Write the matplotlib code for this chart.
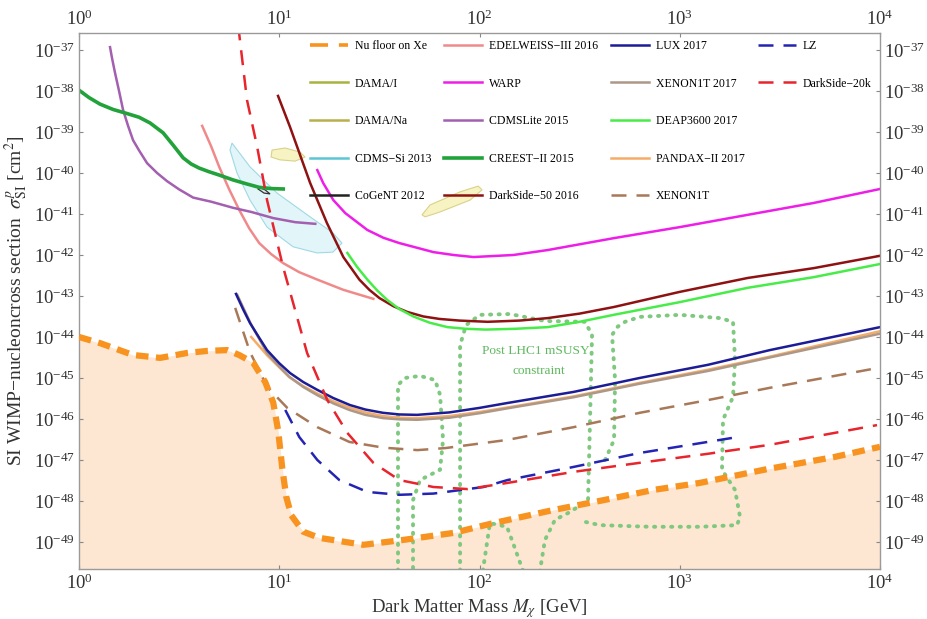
import numpy as np
import matplotlib.pyplot as plt
from matplotlib.lines import Line2D
from matplotlib.ticker import NullLocator

plt.rcParams['font.family'] = ['Liberation Serif', 'DejaVu Serif']
plt.rcParams['mathtext.fontset'] = 'stix'

# values: log10(mass / GeV) and log10(sigma / cm^2)
nu_floor_logm = [0, 0.105, 0.27, 0.405, 0.54, 0.64, 0.74, 0.80, 0.87, 0.93, 0.97, 0.995, 1.015,
                 1.035, 1.06, 1.12, 1.2, 1.42, 1.62, 1.87, 2.07, 2.37, 2.62, 2.87, 3.1, 3.44, 3.77, 4.0]
nu_floor_logsig = [-44.0, -44.15, -44.44, -44.51, -44.39, -44.34, -44.32, -44.44, -44.63, -45.1, -45.6,
                   -46.3, -47.2, -47.9, -48.35, -48.75, -48.9, -49.07, -48.95, -48.78, -48.54, -48.22,
                   -47.98, -47.73, -47.56, -47.22, -46.93, -46.68]

edelweiss_logm = [0.615, 0.66, 0.70, 0.75, 0.80, 0.85, 0.90, 0.96, 1.02, 1.10, 1.19, 1.32, 1.47]
edelweiss_logsig = [-38.85, -39.35, -39.85, -40.4, -40.9, -41.35, -41.71, -41.98, -42.2, -42.42, -42.6,
                    -42.85, -43.07]

cdmslite_logm = [0.155, 0.165, 0.18, 0.20, 0.22, 0.245, 0.27, 0.30, 0.34, 0.39, 0.44, 0.50, 0.57, 0.66,
                 0.77, 0.86, 0.97, 1.08, 1.18]
cdmslite_logsig = [-36.93, -37.2, -37.56, -38.0, -38.46, -38.85, -39.2, -39.45, -39.76, -40.0, -40.2,
                   -40.4, -40.6, -40.7, -40.85, -40.95, -41.1, -41.2, -41.24]

creest_logm = [0, 0.05, 0.105, 0.17, 0.24, 0.30, 0.355, 0.42, 0.47, 0.52, 0.56, 0.60, 0.65, 0.70, 0.77,
               0.84, 0.90, 0.96, 1.02]
creest_logsig = [-37.98, -38.16, -38.32, -38.45, -38.55, -38.64, -38.78, -39.02, -39.32, -39.63, -39.78,
                 -39.88, -39.97, -40.05, -40.17, -40.27, -40.35, -40.38, -40.39]

warp_logm = [1.19, 1.22, 1.27, 1.33, 1.44, 1.52, 1.60, 1.77, 1.87, 1.97, 2.17, 2.34, 2.67, 3.0, 3.34, 3.67, 4.0]
warp_logsig = [-39.93, -40.25, -40.66, -40.98, -41.39, -41.58, -41.71, -41.93, -42.0, -42.05, -42.0, -41.88,
               -41.59, -41.32, -41.02, -40.73, -40.39]

ds50_logm = [0.994, 1.054, 1.154, 1.238, 1.32, 1.40, 1.45, 1.50, 1.57, 1.64, 1.72, 1.80, 1.90, 2.04, 2.20,
             2.34, 2.50, 2.67, 3.0, 3.34, 3.67, 4.0]
ds50_logsig = [-38.12, -38.88, -40.24, -41.22, -42.05, -42.6, -42.85, -43.05, -43.25, -43.39, -43.5, -43.56,
               -43.6, -43.63, -43.6, -43.54, -43.43, -43.27, -42.9, -42.56, -42.32, -42.02]

deap_logm = [1.34, 1.39, 1.44, 1.49, 1.54, 1.60, 1.67, 1.75, 1.84, 1.93, 2.03, 2.18, 2.34, 2.50, 2.67, 3.0,
             3.34, 3.67, 4.0]
deap_logsig = [-41.95, -42.3, -42.6, -42.87, -43.1, -43.32, -43.5, -43.65, -43.76, -43.8, -43.82, -43.8,
               -43.76, -43.63, -43.46, -43.15, -42.8, -42.54, -42.22]

lux_logm = [0.784, 0.82, 0.854, 0.90, 0.939, 1.0, 1.054, 1.12, 1.19, 1.27, 1.353, 1.43, 1.518, 1.60, 1.688,
            1.85, 2.0, 2.14, 2.47, 2.80, 3.14, 3.45, 4.0]
lux_logsig = [-42.95, -43.33, -43.66, -44.02, -44.32, -44.64, -44.88, -45.1, -45.29, -45.49, -45.66, -45.77,
              -45.85, -45.89, -45.9, -45.84, -45.73, -45.61, -45.34, -45.0, -44.68, -44.32, -43.76]

xe2017_logm = [0.79, 0.86, 0.94, 1.0, 1.05, 1.12, 1.19, 1.27, 1.35, 1.43, 1.52, 1.60, 1.69, 1.85, 2.0,
               2.14, 2.47, 2.80, 3.14, 3.45, 4.0]
xe2017_logsig = [-42.97, -43.7, -44.4, -44.72, -44.97, -45.22, -45.42, -45.62, -45.78, -45.9, -45.98,
                 -46.01, -46.02, -45.97, -45.86, -45.74, -45.47, -45.14, -44.83, -44.5, -43.92]

pandax_logm = [0.86, 0.94, 1.0, 1.05, 1.12, 1.19, 1.27, 1.35, 1.43, 1.52, 1.60, 1.69, 1.85, 2.0, 2.14,
               2.47, 2.80, 3.14, 3.45, 4.0]
pandax_logsig = [-44.0, -44.45, -44.74, -44.98, -45.2, -45.38, -45.57, -45.72, -45.84, -45.93, -45.97,
                 -45.98, -45.93, -45.83, -45.72, -45.45, -45.12, -44.8, -44.48, -43.86]

xe1t_logm = [0.78, 0.854, 0.94, 1.04, 1.19, 1.35, 1.52, 1.69, 1.83, 2.14, 2.47, 2.80, 3.14, 3.45, 3.985]
xe1t_logsig = [-43.29, -44.37, -45.22, -45.73, -46.2, -46.56, -46.7, -46.76, -46.71, -46.51, -46.2,
               -45.85, -45.54, -45.24, -44.76]

lz_logm = [1.03, 1.10, 1.19, 1.30, 1.44, 1.60, 1.77, 2.02, 2.14, 2.47, 2.80, 3.14, 3.29]
lz_logsig = [-45.78, -46.44, -47.0, -47.49, -47.78, -47.85, -47.82, -47.66, -47.49, -47.17, -46.83, -46.56, -46.44]

ds20k_logm = [0.795, 0.839, 0.89, 0.939, 1.019, 1.139, 1.24, 1.34, 1.47, 1.60, 1.77, 1.94, 2.14, 2.47,
              2.80, 3.14, 3.45, 3.985]
ds20k_logsig = [-36.4, -38.22, -39.37, -40.66, -42.29, -44.39, -45.54, -46.34, -47.07, -47.49, -47.66,
                -47.71, -47.56, -47.29, -47.07, -46.85, -46.63, -46.15]

# closed signal regions
cdmssi_logm = [0.764, 0.854, 0.989, 1.154, 1.268, 1.313, 1.268, 1.189, 1.069, 0.939, 0.854, 0.789, 0.754]
cdmssi_logsig = [-39.27, -39.85, -40.49, -41.07, -41.46, -41.71, -41.93, -41.95, -41.80, -41.32, -40.66, -40.0, -39.44]
damai_logm = [0.964, 1.029, 1.104, 1.129, 1.079, 1.004, 0.959]
damai_logsig = [-39.44, -39.39, -39.49, -39.61, -39.71, -39.68, -39.61]
damana_logm = [1.713, 1.753, 1.903, 1.993, 2.013, 1.953, 1.803, 1.728]
damana_logsig = [-41.02, -40.78, -40.46, -40.32, -40.41, -40.66, -40.95, -41.07]
cogent_logm = [0.894, 0.929, 0.954, 0.924, 0.894]
cogent_logsig = [-40.34, -40.41, -40.51, -40.49, -40.39]

# post-LHC mSUSY contours (dotted)
msusy_logm = [
    [1.903, 1.903, 1.933, 2.002, 2.152, 2.327, 2.527, 2.562, 2.552, 2.542, 2.452, 2.377, 2.327, 2.302],
    [2.627, 2.672, 2.677, 2.662, 2.69, 2.727, 2.801, 3.001, 3.201, 3.266, 3.276, 3.266, 3.216, 3.211,
     3.276, 3.301, 3.286, 3.101, 2.851, 2.602, 2.527],
    [1.593, 1.593, 1.628, 1.703, 1.778, 1.803, 1.818, 1.803, 1.703, 1.668, 1.668],
    [2.017, 2.052, 2.137, 2.167, 2.217],
]
msusy_logsig = [
    [-49.7, -44.2, -43.71, -43.46, -43.44, -43.61, -43.63, -43.95, -46.02, -47.98, -48.27, -48.46, -48.95, -49.7],
    [-47.0, -46.51, -45.05, -43.95, -43.75, -43.63, -43.51, -43.46, -43.54, -43.63, -44.56, -45.46, -46.02,
     -47.24, -47.73, -48.39, -48.59, -48.63, -48.63, -48.59, -48.51],
    [-49.7, -45.17, -45.0, -44.95, -45.05, -45.41, -46.51, -47.24, -47.49, -47.98, -49.7],
    [-49.7, -48.54, -48.63, -49.02, -49.7],
]


def curve(lm, ls, **kw):
    return ax.plot(10.0 ** np.array(lm), 10.0 ** np.array(ls), **kw)[0]


def region(lm, ls, face, edge, lw=0.8):
    ax.fill(10.0 ** np.array(lm), 10.0 ** np.array(ls), facecolor=face, edgecolor=edge, lw=lw, zorder=1)


fig = plt.figure(figsize=(9.27, 6.19), dpi=100)
ax = fig.add_axes([79 / 927, 1 - 569 / 619, 801 / 927, 536 / 619])
ax.set_xscale('log')
ax.set_yscale('log')
ax.set_xlim(1, 1e4)
ax.set_ylim(10 ** -49.66, 10 ** -36.585)

# neutrino floor
nx = 10.0 ** np.array(nu_floor_logm)
ny = 10.0 ** np.array(nu_floor_logsig)
ax.fill_between(nx, ny, 1e-52, color='#fde6d2', lw=0, zorder=0)
ax.plot(nx, ny, color='#f7931e', lw=4.5, dashes=(2.0, 1.2), zorder=3)

region(cdmssi_logm, cdmssi_logsig, '#e2f5f9', '#9fd9e4')
region(damai_logm, damai_logsig, '#f8f3c2', '#d9d28a')
region(damana_logm, damana_logsig, '#f8f3c2', '#d9d28a')
region(cogent_logm, cogent_logsig, '#dfe3f0', '#333333', lw=0.9)

for lm, ls in zip(msusy_logm, msusy_logsig):
    curve(lm, ls, color='#7fc87f', lw=2.8, linestyle=(0, (0.3, 1.9)), dash_capstyle='round', zorder=2)

edel = curve(edelweiss_logm, edelweiss_logsig, color='#f08a8a', lw=1.8)
cdmslite = curve(cdmslite_logm, cdmslite_logsig, color='#a35fb0', lw=1.8)
creest = curve(creest_logm, creest_logsig, color='#22a23a', lw=2.6)
warp = curve(warp_logm, warp_logsig, color='#ee1ee8', lw=1.8)
ds50 = curve(ds50_logm, ds50_logsig, color='#8e1212', lw=1.8)
deap = curve(deap_logm, deap_logsig, color='#48ec48', lw=1.8)
pandax = curve(pandax_logm, pandax_logsig, color='#f5ac68', lw=1.8)
xe2017 = curve(xe2017_logm, xe2017_logsig, color='#ad9888', lw=1.8)
lux = curve(lux_logm, lux_logsig, color='#1c1c96', lw=1.8)
xe1t = curve(xe1t_logm, xe1t_logsig, color='#a87858', lw=1.8, dashes=(6, 4))
lz = curve(lz_logm, lz_logsig, color='#2424b4', lw=1.8, dashes=(6, 4))
ds20k = curve(ds20k_logm, ds20k_logsig, color='#e8242c', lw=1.8, dashes=(6, 4))

ax.text(10 ** 2.282, 10 ** -44.34, 'Post LHC1 mSUSY', color='#5fb85f', fontsize=9.6, ha='center', va='center')
ax.text(10 ** 2.297, 10 ** -44.83, 'constraint', color='#5fb85f', fontsize=9.6, ha='center', va='center')

# legend
blank = Line2D([], [], color='none')
handles = [
    Line2D([], [], color='#f7931e', lw=2.6, dashes=(5, 3)),
    Line2D([], [], color='#a9b23e', lw=1.8),
    Line2D([], [], color='#b8b04a', lw=1.8),
    Line2D([], [], color='#5cc6d6', lw=1.8),
    Line2D([], [], color='#222222', lw=1.8),
    edel, warp, cdmslite, creest, ds50,
    lux, xe2017, deap, pandax, xe1t,
    lz, ds20k, blank, blank, blank,
]
labels = [
    'Nu floor on Xe', 'DAMA/I', 'DAMA/Na', 'CDMS\u2212Si 2013', 'CoGeNT 2012',
    'EDELWEISS\u2212III 2016', 'WARP', 'CDMSLite 2015', 'CREEST\u2212II 2015', 'DarkSide\u221250 2016',
    'LUX 2017', 'XENON1T 2017', 'DEAP3600 2017', 'PANDAX\u2212II 2017', 'XENON1T',
    'LZ', 'DarkSide\u221220k', '', '', '',
]
ax.legend(handles=handles, labels=labels, ncol=4, loc='upper left',
          bbox_to_anchor=(310 / 927, 1 - 40 / 619), bbox_transform=fig.transFigure,
          frameon=False, fontsize=8.5, handlelength=3.2, handletextpad=0.6,
          columnspacing=1.1, labelspacing=2.17, borderpad=0, borderaxespad=0)

# axes styling
ax.set_xticks([1, 10, 100, 1000, 10000])
ax.set_yticks([10.0 ** k for k in range(-49, -36)])
ax.xaxis.set_minor_locator(NullLocator())
ax.yaxis.set_minor_locator(NullLocator())
ax.tick_params(which='both', direction='in', length=3, color='#888888', labelsize=13.5,
               labelcolor='#333333', top=True, right=True, labeltop=True, labelright=True, pad=3)
for s in ax.spines.values():
    s.set_color('#9a9a9a')
    s.set_linewidth(1.0)

ax.set_xlabel('Dark Matter Mass $M_{\\chi}$ [GeV]', fontsize=13.5, color='#333333')
ax.set_ylabel('SI WIMP\u2212nucleoncross section  $\\sigma^{p}_{\\rm SI}$ [cm$^2$]', fontsize=14, color='#333333')
ax.xaxis.set_label_coords(0.5, -0.052)
ax.yaxis.set_label_coords(-0.061, 0.5)

fig.savefig('out.png', dpi=100)
